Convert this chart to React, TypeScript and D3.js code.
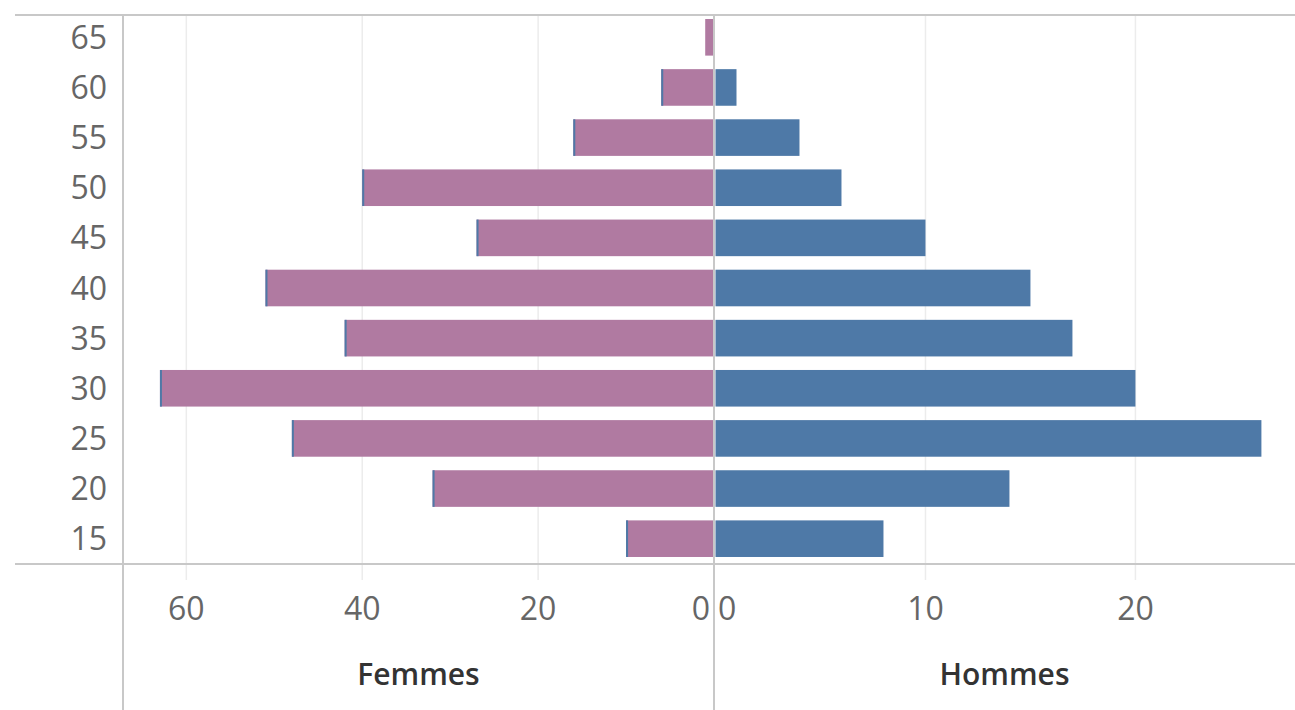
import React, { ReactElement, useEffect, useRef } from "react";
import * as d3 from "d3";

// age groups, top to bottom
const ages = ["65", "60", "55", "50", "45", "40", "35", "30", "25", "20", "15"];
const femmes = [1, 6, 16, 40, 27, 51, 42, 63, 48, 32, 10];
const hommes = [0, 1, 4, 6, 10, 15, 17, 20, 26, 14, 8];
const femmesTicks = [60, 40, 20];
const hommesTicks = [10, 20];

const PINK = "#b07aa1";
const BLUE = "#4e79a7";
const RULE = "#c8c8c8";
const GRID = "#ececec";
const FONT = "'Open Sans', 'Noto Sans', sans-serif";

function Pyramid(): ReactElement {
  const ref = useRef<SVGSVGElement>(null);

  useEffect(() => {
    drawChart();
  });

  const drawChart = () => {
    const width = 1295;
    const height = 710;
    const top = 15;
    const bottom = 564;
    const left = 123; // start of femmes panel
    const mid = 714; // divider
    const right = 1295;

    const svg = d3.select(ref.current).attr("width", width).attr("height", height);
    svg.selectAll("*").remove();

    const y = d3.scaleBand().domain(ages).range([14, 562]).paddingInner(0.27).paddingOuter(0.1);
    const xF = d3.scaleLinear().domain([0, 67.2]).range([mid, left]);
    const xH = d3.scaleLinear().domain([0, 27.6]).range([mid + 1.5, right]);

    // gridlines
    svg
      .selectAll(".gridF")
      .data(femmesTicks)
      .enter()
      .append("line")
      .attr("x1", (d) => xF(d))
      .attr("x2", (d) => xF(d))
      .attr("y1", top)
      .attr("y2", bottom + 16)
      .attr("stroke", GRID)
      .attr("stroke-width", 1.5);
    svg
      .selectAll(".gridH")
      .data(hommesTicks)
      .enter()
      .append("line")
      .attr("x1", (d) => xH(d))
      .attr("x2", (d) => xH(d))
      .attr("y1", top)
      .attr("y2", bottom + 16)
      .attr("stroke", GRID)
      .attr("stroke-width", 1.5);

    // bars
    const rows = ages.map((a, i) => ({ age: a, f: femmes[i], h: hommes[i] }));
    svg
      .selectAll(".barF")
      .data(rows.filter((d) => d.f > 0))
      .enter()
      .append("rect")
      .attr("x", (d) => xF(d.f))
      .attr("y", (d) => y(d.age) || 0)
      .attr("width", (d) => mid - xF(d.f))
      .attr("height", y.bandwidth())
      .attr("fill", PINK);
    svg
      .selectAll(".edgeF")
      .data(rows.filter((d) => d.f > 1))
      .enter()
      .append("line")
      .attr("x1", (d) => xF(d.f) + 1)
      .attr("x2", (d) => xF(d.f) + 1)
      .attr("y1", (d) => y(d.age) || 0)
      .attr("y2", (d) => (y(d.age) || 0) + y.bandwidth())
      .attr("stroke", BLUE)
      .attr("stroke-width", 2);
    svg
      .selectAll(".barH")
      .data(rows.filter((d) => d.h > 0))
      .enter()
      .append("rect")
      .attr("x", xH(0))
      .attr("y", (d) => y(d.age) || 0)
      .attr("width", (d) => xH(d.h) - xH(0))
      .attr("height", y.bandwidth())
      .attr("fill", BLUE);

    // frame rules
    svg.append("line").attr("x1", 15).attr("x2", right).attr("y1", top).attr("y2", top)
      .attr("stroke", RULE).attr("stroke-width", 2);
    svg.append("line").attr("x1", 15).attr("x2", right).attr("y1", bottom).attr("y2", bottom)
      .attr("stroke", RULE).attr("stroke-width", 2);
    svg.append("line").attr("x1", left).attr("x2", left).attr("y1", top).attr("y2", height)
      .attr("stroke", RULE).attr("stroke-width", 2);
    svg.append("line").attr("x1", mid).attr("x2", mid).attr("y1", top).attr("y2", height)
      .attr("stroke", RULE).attr("stroke-width", 2);

    // age labels
    svg
      .selectAll(".age")
      .data(ages)
      .enter()
      .append("text")
      .attr("x", 107)
      .attr("y", (d) => (y(d) || 0) + y.bandwidth() / 2)
      .attr("dy", "0.36em")
      .attr("text-anchor", "end")
      .attr("font-family", FONT)
      .attr("font-size", 32)
      .attr("fill", "#666")
      .text((d) => d);

    // x tick labels
    const tickY = 620;
    svg
      .selectAll(".tickF")
      .data(femmesTicks)
      .enter()
      .append("text")
      .attr("x", (d) => xF(d))
      .attr("y", tickY)
      .attr("text-anchor", "middle")
      .attr("font-family", FONT)
      .attr("font-size", 32)
      .attr("fill", "#666")
      .text((d) => d);
    svg.append("text").attr("x", mid - 4).attr("y", tickY).attr("text-anchor", "end")
      .attr("font-family", FONT).attr("font-size", 32).attr("fill", "#666").text("0");
    svg
      .selectAll(".tickH")
      .data(hommesTicks)
      .enter()
      .append("text")
      .attr("x", (d) => xH(d))
      .attr("y", tickY)
      .attr("text-anchor", "middle")
      .attr("font-family", FONT)
      .attr("font-size", 32)
      .attr("fill", "#666")
      .text((d) => d);
    svg.append("text").attr("x", mid + 4).attr("y", tickY).attr("text-anchor", "start")
      .attr("font-family", FONT).attr("font-size", 32).attr("fill", "#666").text("0");

    // panel titles
    svg.append("text").attr("x", (left + mid) / 2).attr("y", 685).attr("text-anchor", "middle")
      .attr("font-family", FONT).attr("font-size", 30).attr("font-weight", 600).attr("fill", "#333")
      .text("Femmes");
    svg.append("text").attr("x", (mid + right) / 2).attr("y", 685).attr("text-anchor", "middle")
      .attr("font-family", FONT).attr("font-size", 30).attr("font-weight", 600).attr("fill", "#333")
      .text("Hommes");
  };

  return (
    <div>
      <svg ref={ref} style={{ position: "absolute", left: 0, top: 0, display: "block" }}></svg>
    </div>
  );
}

export default function App(): ReactElement {
  return <Pyramid />;
}
